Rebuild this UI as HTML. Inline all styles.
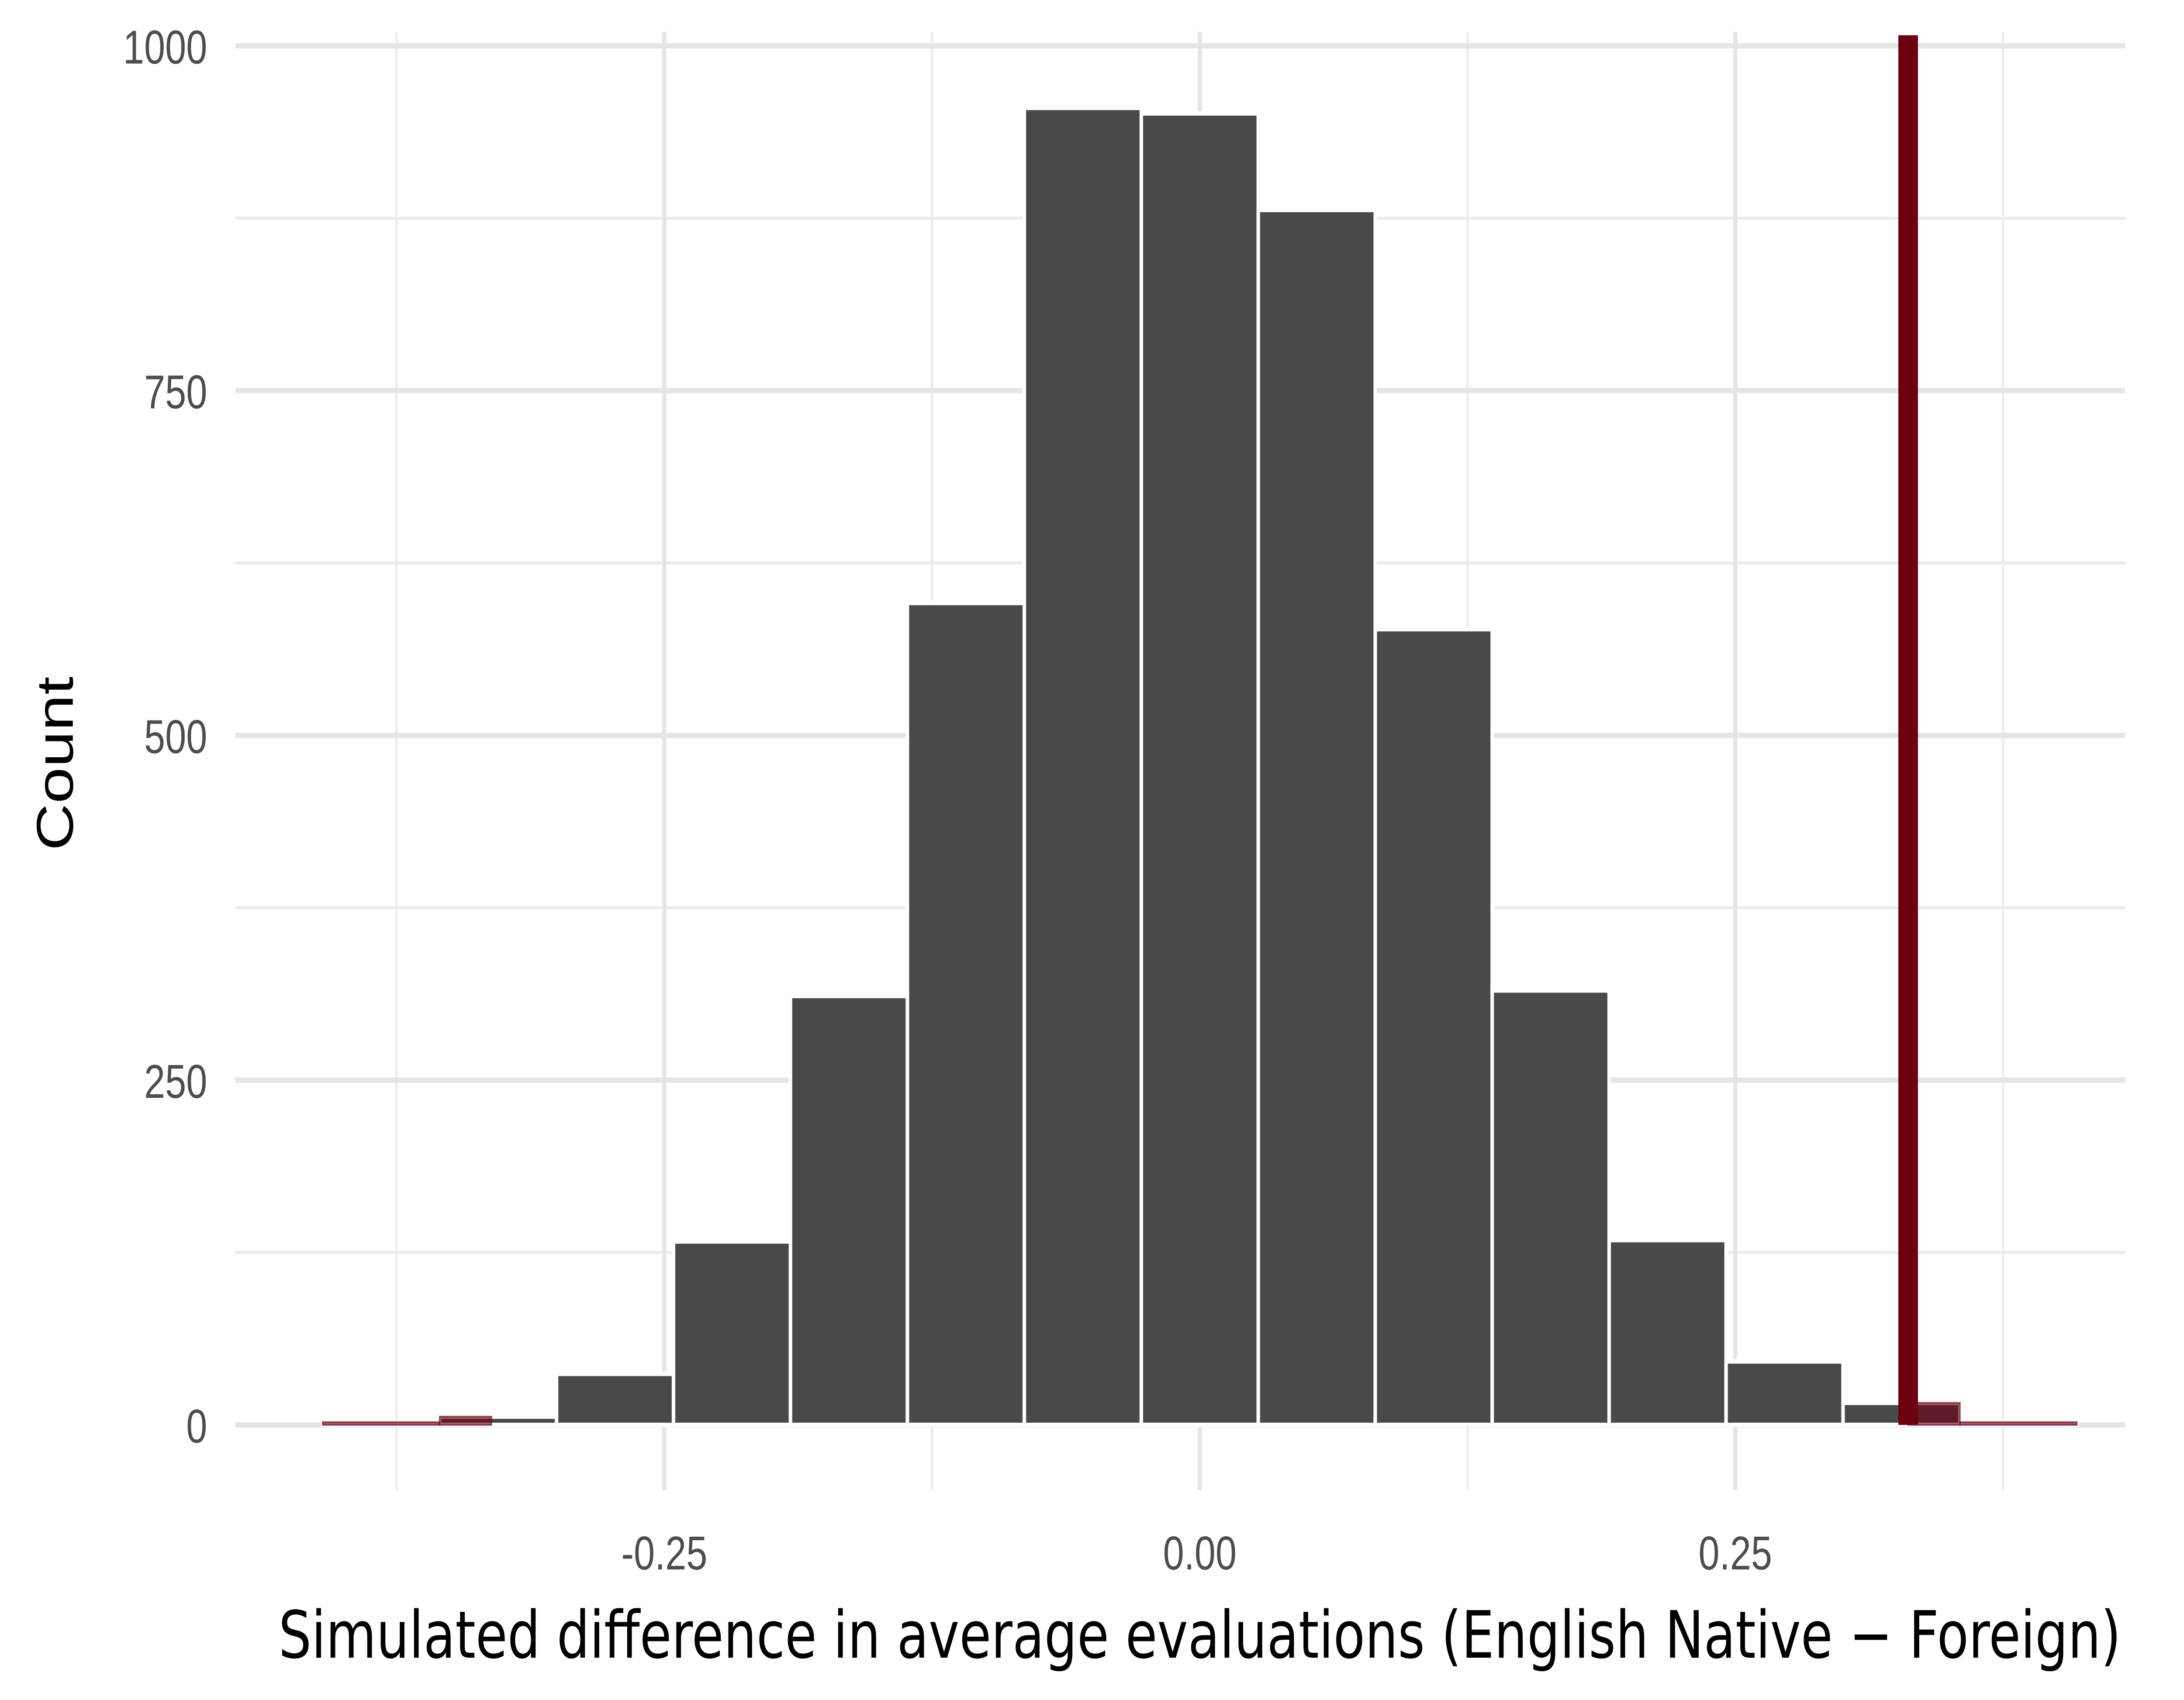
<!DOCTYPE html>
<html><head><meta charset="utf-8"><style>
html,body{margin:0;padding:0;background:#fff;width:100%;height:100%;overflow:hidden;}
svg{display:block;position:fixed;left:0;top:0;width:100vw;height:100vh;}
</style></head><body>
<svg id="chart" viewBox="0 0 1560 964" preserveAspectRatio="none" xmlns="http://www.w3.org/2000/svg">
<rect x="0" y="0" width="1560" height="964" fill="#fff"/>
<g id="grid"></g>
<g id="bars"></g>
<g id="shade"></g>
<g id="obs"></g>
<g id="axes"></g>
<text x="857" y="940" text-anchor="middle" font-family="DejaVu Sans, Liberation Sans, sans-serif" font-size="37" fill="#000">Simulated difference in average evaluations (English Native − Foreign)</text>
<text transform="translate(52,433) rotate(-90)" text-anchor="middle" font-family="Liberation Sans, sans-serif" font-size="37" fill="#000">Count</text>
</svg>
<script>
const binWidth = 0.0546;
const binIndex = [-7,-6,-5,-4,-3,-2,-1,0,1,2,3,4,5,6,7];
const counts = [2,6,37,133,311,596,955,951,881,577,315,134,46,16,2];
const xTicks = [-0.25, 0, 0.25];
const xTickLabels = ["-0.25","0.00","0.25"];
const xMinor = [-0.375,-0.125,0.125,0.375];
const yTicks = [0,250,500,750,1000];
const yTickLabels = ["0","250","500","750","1000"];
const yMinor = [125,375,625,875];
const observed = 0.3307;

const NS="http://www.w3.org/2000/svg";
function px(v){return 857+v*1530;}
function py(c){return 808-c*0.782;}
const L=168,R=1518,T=18,B=845;
function mk(tag,attrs,parent){const e=document.createElementNS(NS,tag);for(const k in attrs)e.setAttribute(k,attrs[k]);parent.appendChild(e);return e;}
const grid=document.getElementById('grid'),bars=document.getElementById('bars'),shade=document.getElementById('shade'),obsG=document.getElementById('obs'),axes=document.getElementById('axes');

xMinor.forEach(v=>{const l=mk('line',{x1:px(v),x2:px(v),y1:T,y2:B,stroke:'#ebebeb','stroke-width':1.6},grid);

});
yMinor.forEach(v=>{const l=mk('line',{x1:L,x2:R,y1:py(v),y2:py(v),stroke:'#ebebeb','stroke-width':1.6},grid);

});
xTicks.forEach((v,i)=>{const l=mk('line',{x1:px(v),x2:px(v),y1:T,y2:B,stroke:'#e5e5e5','stroke-width':3},grid);


const t=mk('text',{x:px(v),y:890,'text-anchor':'middle','font-family':'Liberation Sans, sans-serif','font-size':27,fill:'#4d4d4d'},axes);
t.textContent=xTickLabels[i];

});
yTicks.forEach((v,i)=>{const l=mk('line',{x1:L,x2:R,y1:py(v),y2:py(v),stroke:'#e5e5e5','stroke-width':3},grid);


const t=mk('text',{x:148,y:py(v)+10,'text-anchor':'end','font-family':'Liberation Sans, sans-serif','font-size':27,fill:'#4d4d4d'},axes);
t.textContent=yTickLabels[i];

});

binIndex.forEach((k,i)=>{
 const x0=px((k-0.5)*binWidth),x1=px((k+0.5)*binWidth),y=py(counts[i]);
 const r=mk('rect',{x:x0,y:y,width:x1-x0,height:py(0)-y,fill:'#494949',stroke:'#fff','stroke-width':2.5},bars);
 
 
 const a=(k-0.5)*binWidth,b=(k+0.5)*binWidth;
 let s0=null,s1=null;
 if(b>observed){s0=Math.max(a,observed);s1=b;}
 if(a<-observed){s0=a;s1=Math.min(b,-observed);}
 if(s0!==null){
  const sr=mk('rect',{x:px(s0),y:y,width:px(s1)-px(s0),height:py(0)-y,fill:'#6b0010','fill-opacity':0.6,stroke:'#6b0010','stroke-opacity':0.6,'stroke-width':1},shade);
  
  
 }
});
const ol=mk('line',{x1:px(observed),x2:px(observed),y1:py(0),y2:20,stroke:'#6b0010','stroke-width':14},obsG);


</script>
</body></html>
